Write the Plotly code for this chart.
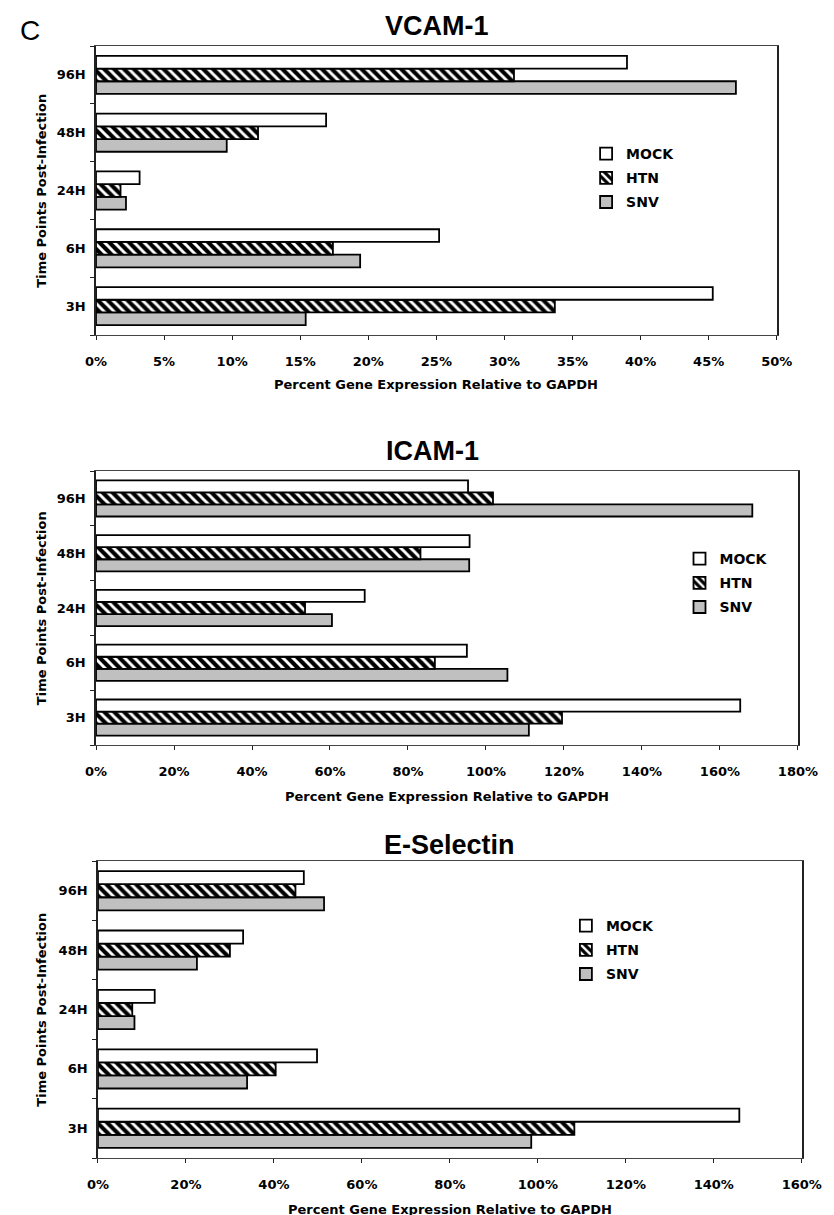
import plotly.graph_objects as go

W, H = 834, 1215

times = ["3H", "6H", "24H", "48H", "96H"]
series = ["MOCK", "HTN", "SNV"]

vcam_mock = [45.3, 25.2, 3.2, 16.9, 39.0]
vcam_htn = [33.7, 17.4, 1.8, 11.9, 30.7]
vcam_snv = [15.4, 19.4, 2.2, 9.6, 47.0]

icam_mock = [165.2, 95.1, 68.9, 95.8, 95.4]
icam_htn = [119.5, 86.9, 53.6, 83.2, 101.8]
icam_snv = [111.0, 105.5, 60.5, 95.7, 168.3]

esel_mock = [145.8, 49.8, 12.9, 33.0, 46.8]
esel_htn = [108.3, 40.4, 7.8, 30.0, 44.9]
esel_snv = [98.5, 33.9, 8.3, 22.5, 51.4]

panel_titles = ["VCAM-1", "ICAM-1", "E-Selectin"]
x_ranges = [[0, 50], [0, 180], [0, 160]]
x_dticks = [5, 20, 20]
y_title = "Time Points Post-Infection"
x_title = "Percent Gene Expression Relative to GAPDH"

panels = [
    dict(mock=vcam_mock, htn=vcam_htn, snv=vcam_snv),
    dict(mock=icam_mock, htn=icam_htn, snv=icam_snv),
    dict(mock=esel_mock, htn=esel_htn, snv=esel_snv),
]

# layout geometry in pixels (left, right, top, bottom)
boxes = [(80, 787, 38, 327), (80, 809, 463, 737), (82, 813, 853, 1150)]
title_pos = [(434, 18), (429, 443), (447, 837)]
xtitle_y = [377, 788, 1201]
legend_pos = [(589, 130), (686, 535), (568, 902)]

TICKFONT = dict(family="DejaVu Sans", size=13, color="black", weight="bold")
BORDER = 1.8

fig = go.Figure()
layout = dict(
    width=W, height=H, margin=dict(l=0, r=0, t=0, b=0),
    paper_bgcolor="white", plot_bgcolor="white",
    barmode="group", bargap=0.34, bargroupgap=0,
    annotations=[], showlegend=True,
)

for i, p in enumerate(panels):
    n = "" if i == 0 else str(i + 1)
    xa, ya = "x" + n, "y" + n
    lg = "legend" + n
    l, r, t, b = boxes[i]
    # order: SNV first so it sits at bottom of each group
    fig.add_trace(go.Bar(
        y=times, x=p["snv"], name="SNV", orientation="h",
        xaxis=xa, yaxis=ya, legend=lg, legendgroup=f"snv{i}", legendrank=3,
        marker=dict(color="#c0c0c0", line=dict(color="black", width=BORDER)),
    ))
    fig.add_trace(go.Bar(
        y=times, x=p["htn"], name="HTN", orientation="h",
        xaxis=xa, yaxis=ya, legend=lg, legendgroup=f"htn{i}", legendrank=2,
        marker=dict(color="black", line=dict(color="black", width=BORDER),
                    pattern=dict(shape="\\", fgcolor="white", bgcolor="black",
                                 size=7, solidity=0.42, fillmode="replace")),
    ))
    fig.add_trace(go.Bar(
        y=times, x=p["mock"], name="MOCK", orientation="h",
        xaxis=xa, yaxis=ya, legend=lg, legendgroup=f"mock{i}", legendrank=1,
        marker=dict(color="white", line=dict(color="black", width=BORDER)),
    ))

    layout["xaxis" + n] = dict(
        domain=[l / W, r / W], anchor=ya, range=x_ranges[i], dtick=x_dticks[i],
        ticksuffix="%", showgrid=False, zeroline=False,
        showline=True, linecolor="#444", linewidth=1.2, mirror=True,
        ticks="outside", ticklen=4, tickcolor="#222", tickwidth=1,
        tickfont=TICKFONT, ticklabelstandoff=10, fixedrange=True,
    )
    layout["yaxis" + n] = dict(
        domain=[1 - b / H, 1 - t / H], anchor=xa, type="category",
        categoryorder="array", categoryarray=times,
        showgrid=False, zeroline=False,
        showline=True, linecolor="#222", linewidth=1.5, mirror=True,
        ticks="outside", ticklen=4, tickcolor="#222", tickwidth=1,
        tickson="boundaries", tickfont=TICKFONT, ticklabelstandoff=6,
        fixedrange=True,
    )
    lx, ly = legend_pos[i]
    layout[lg] = dict(
        x=lx / W, y=1 - ly / H, xanchor="left", yanchor="top",
        bgcolor="rgba(0,0,0,0)", borderwidth=0,
        traceorder="grouped", tracegroupgap=3,
        font=dict(family="DejaVu Sans", size=14, color="black", weight="bold"),
        itemwidth=30,
    )
    tx, ty = title_pos[i]
    layout["annotations"].append(dict(
        text=panel_titles[i], x=tx / W, y=1 - ty / H, xref="paper", yref="paper",
        xanchor="center", yanchor="middle", showarrow=False,
        font=dict(family="Liberation Sans", size=27, color="black", weight="bold"),
    ))
    layout["annotations"].append(dict(
        text=x_title, x=(l + r) / 2 / W, y=1 - xtitle_y[i] / H,
        xref="paper", yref="paper", xanchor="center", yanchor="middle",
        showarrow=False,
        font=dict(family="DejaVu Sans", size=13, color="black", weight="bold"),
    ))
    layout["annotations"].append(dict(
        text=y_title, x=23 / W, y=1 - (t + b) / 2 / H,
        xref="paper", yref="paper", xanchor="center", yanchor="middle",
        textangle=-90, showarrow=False,
        font=dict(family="DejaVu Sans", size=13, color="black", weight="bold"),
    ))

layout["annotations"].append(dict(
    text="C", x=0, y=1 - 22 / H, xref="paper", yref="paper",
    xanchor="left", yanchor="middle", showarrow=False, borderpad=0,
    font=dict(family="Liberation Sans", size=28, color="black"),
))

fig.update_layout(**layout)
fig.write_html("out.html")
